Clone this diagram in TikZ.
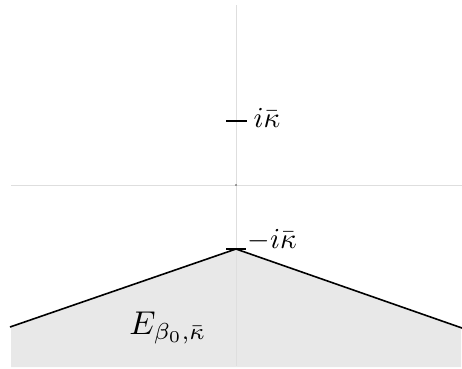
\documentclass[tikz,border=0pt]{standalone}
\begin{document}
\begin{tikzpicture}[x=1pt,y=-1pt,
  axis/.style={draw=black!13,line width=0.9pt},
  bound/.style={draw=black,line width=1.6pt},
  tickmark/.style={draw=black,line width=1.6pt},
  lbl/.style={inner sep=0pt,scale=2.9},
  reg/.style={fill=black!9}]
\useasboundingbox (0,0) rectangle (462,368);
\coordinate (L) at (10,327);
\coordinate (V) at (236,249);
\coordinate (R) at (462,328);
\coordinate (BL) at (11,367);
\coordinate (BR) at (461,367);
\fill[reg] (BL) -- (11,327.3) -- (V) -- (461,327.6) -- (BR) -- cycle;
\coordinate (xa) at (11,185);
\coordinate (xb) at (462,185);
\coordinate (ya) at (236,5);
\coordinate (yb) at (236,366);
\draw[axis] (xa) -- (xb);
\draw[axis] (ya) -- (yb);
\fill[black!70] (236,185) circle (0.8);
\draw[bound] (L) -- (V) -- (R);
\coordinate (t1a) at (226,121);
\coordinate (t1b) at (247,121);
\draw[tickmark] (t1a) -- (t1b);
\coordinate (t2a) at (226,249);
\coordinate (t2b) at (246,249);
\draw[tickmark] (t2a) -- (t2b);
\node[lbl,anchor=west] (ik) at (253,118) {$i\bar\kappa$};
\node[lbl,anchor=west] (mik) at (247,240) {$-i\bar\kappa$};
\node[inner sep=0pt,scale=3.3] (E) at (168,328) {$E_{\beta_0,\bar\kappa}$};
\end{tikzpicture}
\end{document}
